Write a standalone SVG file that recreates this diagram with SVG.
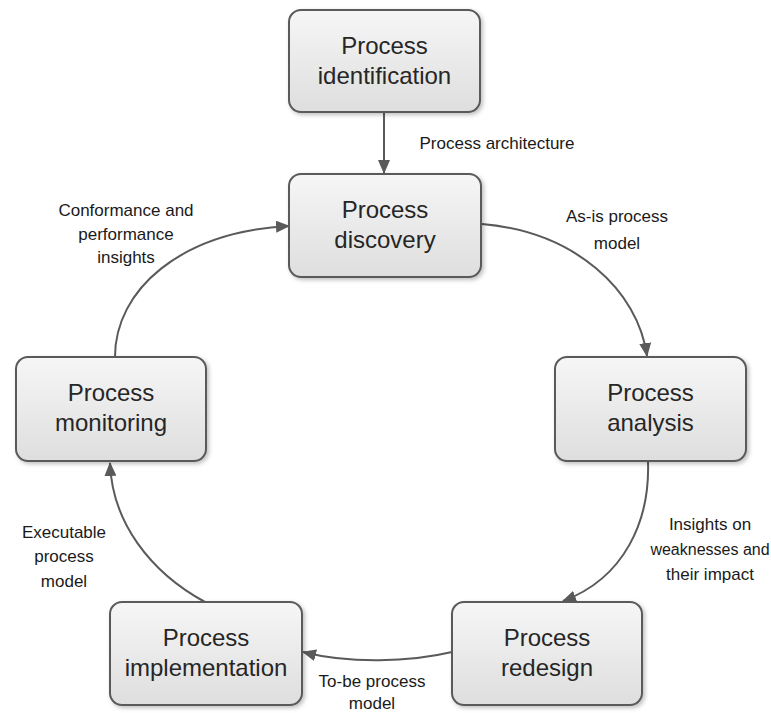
<svg xmlns="http://www.w3.org/2000/svg" width="771" height="713" viewBox="0 0 771 713">
<style>
.box{fill:url(#g);stroke:#5a5a5a;stroke-width:2;filter:url(#sh)}
.nt{font-family:"Liberation Sans",Arial,sans-serif;font-size:24px;fill:#262626;text-anchor:middle}
.lb{font-family:"Liberation Sans",Arial,sans-serif;font-size:17px;fill:#1a1a1a;text-anchor:middle}
.c{fill:none;stroke:#5a5a5a;stroke-width:2;marker-end:url(#ah)}
</style>
<defs>
<linearGradient id="g" x1="0" y1="0" x2="0" y2="1">
<stop offset="0" stop-color="#f6f6f6"/>
<stop offset="1" stop-color="#dedede"/>
</linearGradient>
<filter id="sh" x="-10%" y="-10%" width="125%" height="125%">
<feDropShadow dx="2" dy="2" stdDeviation="2" flood-color="#000" flood-opacity="0.25"/>
</filter>
<marker id="ah" viewBox="0 0 14 12" refX="13" refY="6" markerWidth="14" markerHeight="12" markerUnits="userSpaceOnUse" orient="auto">
<path d="M0,0 L14,6 L0,12 Z" fill="#5a5a5a"/>
</marker>
</defs>
<g id="connectors">
<path class="c" d="M384,113 L384,173"/>
<path class="c" d="M482,224 C575,232 638,290 647,356"/>
<path class="c" d="M648,462 C650,520 625,578 563,601"/>
<path class="c" d="M452,652 C410,662 350,664 303,652"/>
<path class="c" d="M205,602 C150,572 112,522 110,463"/>
<path class="c" d="M115,357 C115,290 180,232 289,226"/>
</g>
<g id="labels">
<text class="lb" x="497" y="149">Process architecture</text>
<text class="lb" x="617" y="222">As-is process</text>
<text class="lb" x="617" y="249">model</text>
<text class="lb" x="126" y="216">Conformance and</text>
<text class="lb" x="126" y="240">performance</text>
<text class="lb" x="126" y="263">insights</text>
<text class="lb" x="710" y="530">Insights on</text>
<text class="lb" x="710" y="555" style="font-size:16px">weaknesses and</text>
<text class="lb" x="710" y="580">their impact</text>
<text class="lb" x="64" y="538">Executable</text>
<text class="lb" x="64" y="562">process</text>
<text class="lb" x="64" y="587">model</text>
<text class="lb" x="372" y="687">To-be process</text>
<text class="lb" x="372" y="709">model</text>
</g>
<g id="identification">
<rect class="box" x="289" y="10" width="191" height="102" rx="12"/>
<text class="nt" x="384.5" y="54">Process</text>
<text class="nt" x="384.5" y="84">identification</text>
</g>
<g id="discovery">
<rect class="box" x="289" y="174" width="192" height="103" rx="12"/>
<text class="nt" x="385" y="218">Process</text>
<text class="nt" x="385" y="248">discovery</text>
</g>
<g id="analysis">
<rect class="box" x="555" y="357" width="191" height="104" rx="12"/>
<text class="nt" x="650.5" y="401">Process</text>
<text class="nt" x="650.5" y="431">analysis</text>
</g>
<g id="monitoring">
<rect class="box" x="16" y="357" width="190" height="104" rx="12"/>
<text class="nt" x="111" y="401">Process</text>
<text class="nt" x="111" y="431">monitoring</text>
</g>
<g id="implementation">
<rect class="box" x="110" y="602" width="192" height="103" rx="12"/>
<text class="nt" x="206" y="646">Process</text>
<text class="nt" x="206" y="676">implementation</text>
</g>
<g id="redesign">
<rect class="box" x="452" y="602" width="190" height="103" rx="12"/>
<text class="nt" x="547" y="646">Process</text>
<text class="nt" x="547" y="676">redesign</text>
</g>
</svg>
